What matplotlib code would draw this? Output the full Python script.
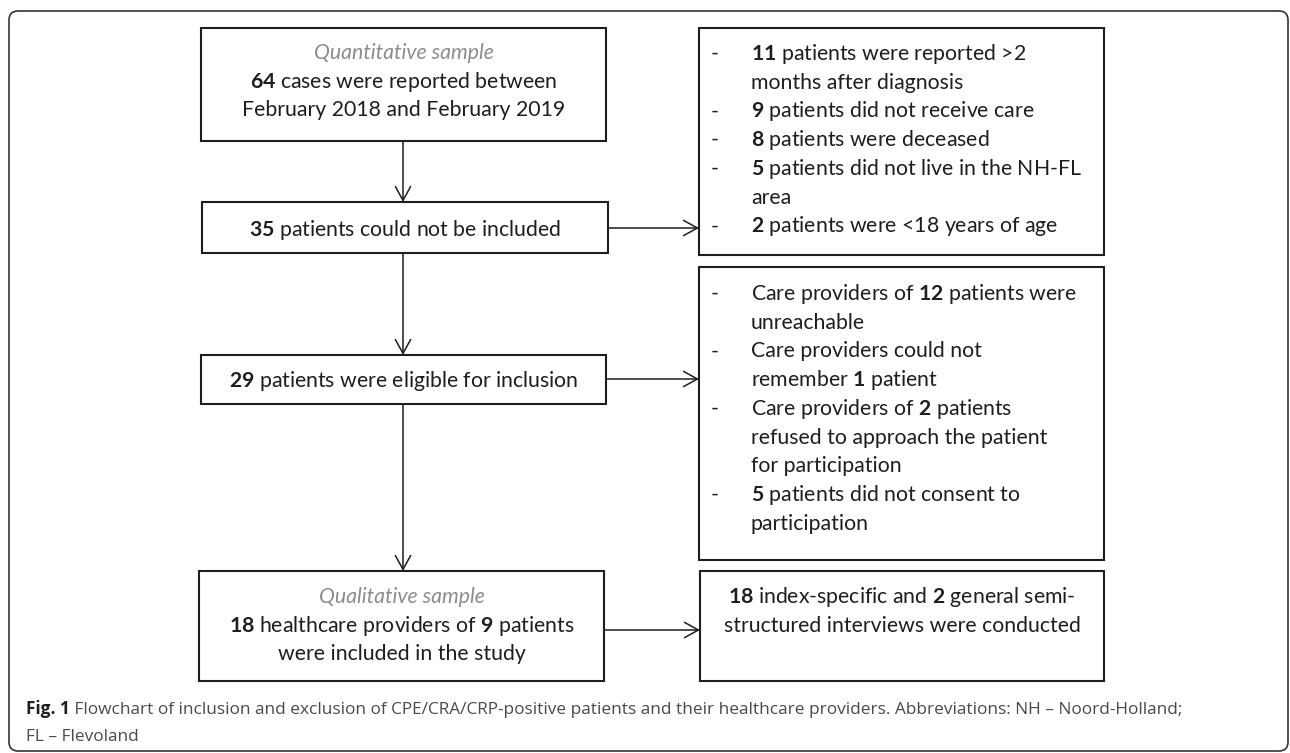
import matplotlib
matplotlib.use('Agg')
import matplotlib.pyplot as plt
from matplotlib.patches import Rectangle, FancyBboxPatch

# ---- content of the flowchart ----
quant_title = "Quantitative sample"
quant_lines = [r"$\mathbf{64}$ cases were reported between",
               "February 2018 and February 2019"]
excluded_line = r"$\mathbf{35}$ patients could not be included"
excluded_reasons = [
    [r"$\mathbf{11}$ patients were reported >2", "months after diagnosis"],
    [r"$\mathbf{9}$ patients did not receive care"],
    [r"$\mathbf{8}$ patients were deceased"],
    [r"$\mathbf{5}$ patients did not live in the NH-FL", "area"],
    [r"$\mathbf{2}$ patients were <18 years of age"],
]
eligible_line = r"$\mathbf{29}$ patients were eligible for inclusion"
dropout_reasons = [
    [r"Care providers of $\mathbf{12}$ patients were", "unreachable"],
    ["Care providers could not", r"remember $\mathbf{1}$ patient"],
    [r"Care providers of $\mathbf{2}$ patients", "refused to approach the patient",
     "for participation"],
    [r"$\mathbf{5}$ patients did not consent to", "participation"],
]
qual_title = "Qualitative sample"
qual_lines = [r"$\mathbf{18}$ healthcare providers of $\mathbf{9}$ patients",
              "were included in the study"]
interview_lines = [r"$\mathbf{18}$ index-specific and $\mathbf{2}$ general semi-",
                   "structured interviews were conducted"]
caption_bold = "Fig. 1"
caption_lines = [" Flowchart of inclusion and exclusion of CPE/CRA/CRP-positive patients "
                 "and their healthcare providers. Abbreviations: NH \u2013 Noord-Holland;",
                 "FL \u2013 Flevoland"]

# ---- layout (pixels, y downwards) ----
W, H = 1290, 753
PITCH = 28.7
BOX_FONT = 'Lato'
CAP_FONT = 'Open Sans'
INK = '#1e1e1e'

plt.rcParams['mathtext.fontset'] = 'custom'
plt.rcParams['mathtext.rm'] = BOX_FONT
plt.rcParams['mathtext.bf'] = BOX_FONT + ':bold'

fig = plt.figure(figsize=(W / 100, H / 100), dpi=100)
ax = fig.add_axes([0, 0, 1, 1])
ax.set_xlim(0, W)
ax.set_ylim(H, 0)
ax.axis('off')
renderer = fig.canvas.get_renderer()


def fit_size(text, target, **kw):
    t = ax.text(0, 0, text, fontsize=10, **kw)
    w = t.get_window_extent(renderer).width
    t.remove()
    return 10 * target / w


fs = fit_size("February 2018 and February 2019", 323, family=BOX_FONT)
cfs = fit_size(caption_bold + caption_lines[0], 1155, family=CAP_FONT)


def box(x0, y0, x1, y1):
    ax.add_patch(Rectangle((x0, y0), x1 - x0, y1 - y0, fill=False,
                           lw=1.5, ec=INK, zorder=2))


def arrow(p0, p1):
    ax.annotate('', xy=p1, xytext=p0,
                arrowprops=dict(arrowstyle='->,head_length=1.0,head_width=0.55',
                                lw=1.1, color=INK, shrinkA=0, shrinkB=0))


def centered(lines, cx, y0, title=None):
    y = y0
    if title:
        ax.text(cx, y, title, ha='center', va='baseline', fontsize=fs,
                family=BOX_FONT, style='italic', color='#8c8c8c')
        y += PITCH
    for ln in lines:
        ax.text(cx, y, ln, ha='center', va='baseline', fontsize=fs,
                family=BOX_FONT, color=INK)
        y += PITCH


def bullets(items, x0, y0):
    y = y0
    for item in items:
        ax.text(x0 + 11, y, '-', ha='left', va='baseline', fontsize=fs,
                family=BOX_FONT, color=INK)
        for ln in item:
            ax.text(x0 + 51, y, ln, ha='left', va='baseline', fontsize=fs,
                    family=BOX_FONT, color=INK)
            y += PITCH


# outer frame
ax.add_patch(FancyBboxPatch((9, 11), 1279, 740,
                            boxstyle='round,pad=0,rounding_size=9',
                            fill=False, lw=1.2, ec='#333333'))

# left column
box(201, 28, 606, 141)
centered(quant_lines, 403.5, 59, title=quant_title)
box(202, 202, 608, 253)
centered([excluded_line], 405, 236)
box(201, 355, 606, 404)
centered([eligible_line], 403.5, 387)
box(199, 571, 604, 681)
centered(qual_lines, 401.5, 603, title=qual_title)

arrow((403, 141), (403, 202))
arrow((403, 253), (403, 355))
arrow((403, 404), (403, 571))

# right column
box(699, 28, 1104, 255)
bullets(excluded_reasons, 700, 60)
box(699, 267, 1104, 560)
bullets(dropout_reasons, 700, 300)
box(700, 571, 1104, 681)
centered(interview_lines, 902, 603)

arrow((608, 228), (699, 228))
arrow((606, 379), (699, 379))
arrow((604, 630), (700, 630))

# caption
t = ax.text(26, 714, caption_bold, ha='left', va='baseline', fontsize=cfs,
            family=CAP_FONT, weight='bold', color='#231f20')
x_end = ax.transData.inverted().transform(
    (t.get_window_extent(renderer).x1, 0))[0]
ax.text(x_end, 714, caption_lines[0], ha='left', va='baseline', fontsize=cfs,
        family=CAP_FONT, color='#4a4a4a')
ax.text(26, 741, caption_lines[1], ha='left', va='baseline', fontsize=cfs,
        family=CAP_FONT, color='#4a4a4a')

fig.savefig('out.png', dpi=100)
